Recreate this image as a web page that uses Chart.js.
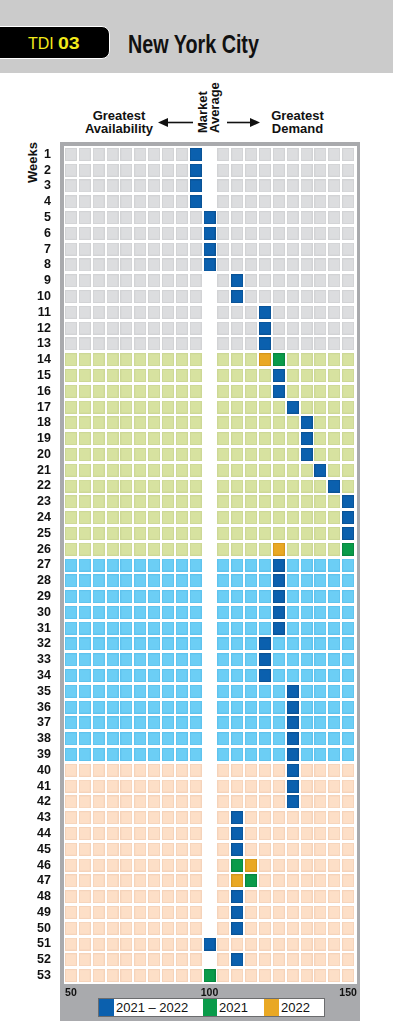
<!DOCTYPE html>
<html><head><meta charset="utf-8">
<script src="https://cdn.jsdelivr.net/npm/chart.js@4.4.1/dist/chart.umd.min.js"></script>
<style>
html,body{margin:0;padding:0;background:#fff;}
body{width:393px;height:1028px;position:relative;overflow:hidden;font-family:'Liberation Sans',Arial,sans-serif;color:#111;}
.abs{position:absolute;}
#header{left:0;top:0;width:393px;height:73px;background:#cbcbcb;}
#badge{left:-12px;top:25.5px;width:120px;height:31.5px;background:#000;border:1.5px solid #fff;border-radius:8px;}
#badgeText{left:28px;top:34px;font-size:16px;line-height:20px;color:#f2ea1b;white-space:nowrap;}
#badgeText b{display:inline-block;transform:scaleX(1.22);transform-origin:0 50%;font-weight:900;}
#title{left:128px;top:29px;font-size:26.5px;font-weight:bold;line-height:30px;transform:scaleX(0.745);transform-origin:0 0;white-space:nowrap;color:#111;}
.ann{font-size:13px;font-weight:bold;line-height:13px;text-align:center;width:80px;color:#111;}
#avail{left:79px;top:108.5px;}
#demand{left:257.5px;top:108.5px;}
.rot{transform:rotate(-90deg);transform-origin:0 0;font-size:13px;font-weight:bold;line-height:12px;white-space:nowrap;color:#111;}
#market{left:197px;top:133px;}
#weeksLabel{left:27px;top:183px;}
#frame{left:60px;top:142px;width:300px;height:879px;background:#a9aaad;}
#inner{left:63.5px;top:145.5px;width:293.5px;height:838px;background:#fff;}
#legend{left:98px;top:998px;width:227px;height:19px;box-sizing:border-box;border:1px solid #6b6c6e;background:#fff;}
.sw{position:absolute;top:0;height:17px;}
.lt{position:absolute;top:0;font-size:13px;line-height:17px;color:#111;white-space:nowrap;}
#chart{position:absolute;left:0;top:0;}
</style></head>
<body>
<div id="header" class="abs"></div>
<div id="badge" class="abs"></div>
<div id="badgeText" class="abs">TDI <b>03</b></div>
<div id="title" class="abs">New York City</div>
<div id="avail" class="abs ann">Greatest<br>Availability</div>
<div id="demand" class="abs ann">Greatest<br>Demand</div>
<div id="market" class="abs rot">Market<br>Average</div>
<svg class="abs" style="left:0;top:0" width="393" height="140">
  <line x1="165" y1="122.5" x2="193" y2="122.5" stroke="#111" stroke-width="1.6"/>
  <polygon points="158,122.5 168,118 168,127" fill="#111"/>
  <line x1="227" y1="122.5" x2="252" y2="122.5" stroke="#111" stroke-width="1.6"/>
  <polygon points="260,122.5 250,118 250,127" fill="#111"/>
</svg>
<div id="weeksLabel" class="abs rot">Weeks</div>
<div id="frame" class="abs"></div>
<div id="inner" class="abs"></div>
<div id="legend" class="abs">
  <div class="sw" style="left:0;width:15px;background:#0b60ae"></div>
  <div class="lt" style="left:17px">2021 – 2022</div>
  <div class="sw" style="left:104px;width:14px;background:#0a9b4a"></div>
  <div class="lt" style="left:120px">2021</div>
  <div class="sw" style="left:165px;width:15px;background:#e9a824"></div>
  <div class="lt" style="left:182px">2022</div>
</div>
<canvas id="chart" width="393" height="1028"></canvas>
<script>
// ---- data ----
const weeks = [1,2,3,4,5,6,7,8,9,10,11,12,13,14,15,16,17,18,19,20,21,22,23,24,25,26,27,28,29,30,31,32,33,34,35,36,37,38,39,40,41,42,43,44,45,46,47,48,49,50,51,52,53];
const columns = [50,55,60,65,70,75,80,85,90,95,100,105,110,115,120,125,130,135,140,145,150];
const xTickValues = [50,100,150];
const marketAverageColumn = 100;
const bandStartWeeks = [1,14,27,40];
const bandEndWeeks = [13,26,39,53];
const avg2021to2022 = [95,95,95,95,100,100,100,100,110,110,120,120,120,null,125,125,130,135,135,135,140,145,150,150,150,null,125,125,125,125,125,120,120,120,130,130,130,130,130,130,130,130,110,110,110,null,null,110,110,110,100,110,null];
const weeks2021 = [14,26,46,47,53];
const values2021 = [125,150,110,115,100];
const weeks2022 = [14,26,46,47];
const values2022 = [120,125,115,110];

// ---- styles ----
const bandFills = ['#dcdddf','#d7e2a0','#6ccef5','#fddfc7'];
const bandEdges = ['#d2d3d5','#cdd896','#5fc3ee','#f5d3ba'];
const CELL_W = 12, CELL_H = 13;
function cellImage(fill, edge){
  const c = document.createElement('canvas');
  c.width = CELL_W; c.height = CELL_H;
  const g = c.getContext('2d');
  g.fillStyle = edge; g.fillRect(0,0,CELL_W,CELL_H);
  g.fillStyle = fill; g.fillRect(1,1,CELL_W-2,CELL_H-2);
  return c;
}

const datasets = [];
function addSeries(label, points, fill, edge){
  datasets.push({label, data: points, pointStyle: cellImage(fill, edge), pointRadius: 6, pointHoverRadius: 6});
}
addSeries('2021', weeks2021.map((w,i)=>({x: values2021[i], y: w})), '#0a9b4a', '#08863f');
addSeries('2022', weeks2022.map((w,i)=>({x: values2022[i], y: w})), '#e9a824', '#d4961b');
addSeries('2021 – 2022', weeks.map((w,i)=>avg2021to2022[i]===null?null:({x: avg2021to2022[i], y: w})).filter(p=>p), '#0b60ae', '#0a5396');
bandStartWeeks.forEach((s,b)=>{
  const pts = [];
  weeks.filter(w=>w>=s && w<=bandEndWeeks[b]).forEach(w=>{
    columns.forEach(c=>{ if (c!==marketAverageColumn) pts.push({x:c, y:w}); });
  });
  addSeries('band'+b, pts, bandFills[b], bandEdges[b]);
});

Chart.defaults.font.family = "'Liberation Sans', Arial, sans-serif";
new Chart(document.getElementById('chart'), {
  type: 'scatter',
  data: {datasets},
  options: {
    responsive: false, animation: false, events: [], devicePixelRatio: 1,
    layout: {padding: {top: 146.5, right: 38, bottom: 0, left: 0}},
    plugins: {legend: {display: false}, tooltip: {enabled: false}},
    scales: {
      x: {
        type: 'linear', min: 47.5, max: 152.5,
        grid: {display: false, drawTicks: false}, border: {display: false},
        afterBuildTicks: s => { s.ticks = xTickValues.map(v => ({value: v})); },
        afterFit: s => { s.height = 1028 - 983.5; },
        ticks: {padding: 3, color: '#111', autoSkip: false, maxRotation: 0, font: {size: 10.5, weight: 'bold'}, callback: v => String(v)}
      },
      y: {
        type: 'linear', reverse: true, min: 0.5, max: 53.5,
        grid: {display: false, drawTicks: false}, border: {display: false},
        afterBuildTicks: s => { s.ticks = weeks.map(v => ({value: v})); },
        afterFit: s => { s.width = 64; },
        ticks: {padding: 13, color: '#111', autoSkip: false, font: {size: 12.5, weight: 'bold'}, callback: v => String(v)}
      }
    }
  }
});
</script>
</body></html>
